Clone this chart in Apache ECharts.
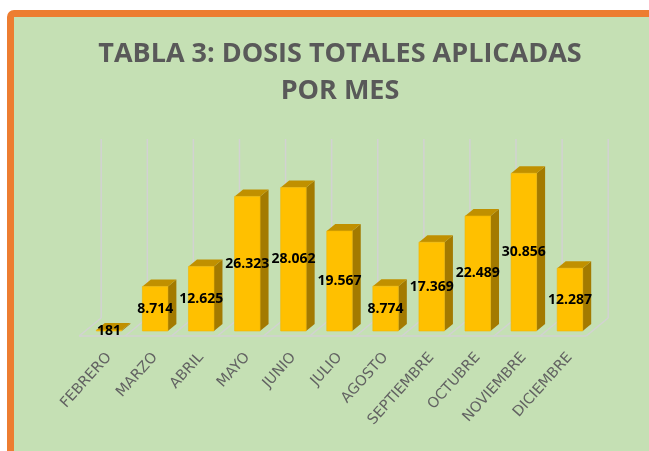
<!DOCTYPE html>
<html>
<head>
<meta charset="utf-8">
<script src="https://cdn.jsdelivr.net/npm/echarts@6/dist/echarts.min.js"></script>
<style>
  html, body { margin: 0; padding: 0; background: #fff; }
  .card {
    position: absolute; left: 7px; top: 10px; width: 700px; height: 500px;
    box-sizing: border-box; border: 7px solid #ED7D31; border-radius: 7px;
    background: #C5E0B4;
  }
  #chart { position: absolute; left: 0; top: 0; width: 649px; height: 451px; }
</style>
</head>
<body>
<div class="card"></div>
<div id="chart"></div>
<script>
const meses = ['FEBRERO', 'MARZO', 'ABRIL', 'MAYO', 'JUNIO', 'JULIO', 'AGOSTO',
  'SEPTIEMBRE', 'OCTUBRE', 'NOVIEMBRE', 'DICIEMBRE'];
const dosis = [181, 8714, 12625, 26323, 28062, 19567, 8774, 17369, 22489, 30856, 12287];
const yMax = 35000;

// profundidad de la caja 3D
const DX = 8.5, DY = 7;
// piso: borde delantero y pared trasera respecto al eje
const FX = -6.8, FY = 5, BX = 15.2, BY = -13;

function fmt (v) {
  return String(Math.round(v)).replace(/\B(?=(\d{3})+(?!\d))/g, '.');
}

const chart = echarts.init(document.getElementById('chart'));

// piso y lineas de la pared
function renderFloor (params, api) {
  const i = api.value(0);
  const c = api.coord([i, 0]);
  const t = api.coord([i, yMax]);
  const band = api.size([1, 0])[0];
  const L = c[0] - band / 2, R = c[0] + band / 2;
  const st = { stroke: '#D2D2D2', lineWidth: 1.5 };
  const kids = [
    { type: 'line', shape: { x1: L + FX, y1: c[1] + FY, x2: R + FX, y2: c[1] + FY }, style: st }
  ];
  const edges = [L];
  if (i === meses.length - 1) edges.push(R);
  edges.forEach(function (x) {
    kids.push({ type: 'line', shape: { x1: x + BX, y1: t[1] + BY, x2: x + BX, y2: c[1] + BY }, style: st });
    kids.push({ type: 'line', shape: { x1: x + BX, y1: c[1] + BY, x2: x + FX, y2: c[1] + FY }, style: st });
  });
  return { type: 'group', children: kids };
}

// columnas 3D
function renderBar (params, api) {
  const i = api.value(0), v = api.value(1);
  const top = api.coord([i, v]);
  const base = api.coord([i, 0]);
  const band = api.size([1, 0])[0];
  const w = band * 0.553;
  const x0 = top[0] - w / 2, x1 = top[0] + w / 2;
  const yt = top[1], yb = base[1];
  return {
    type: 'group',
    children: [
      { type: 'polygon', shape: { points: [[x1, yt], [x1 + DX, yt - DY], [x1 + DX, yb - DY], [x1, yb]] }, style: { fill: '#A37A00' } },
      { type: 'polygon', shape: { points: [[x0, yt], [x0 + DX, yt - DY], [x1 + DX, yt - DY], [x1, yt]] }, style: { fill: '#C09000' } },
      {
        type: 'rect',
        shape: { x: x0, y: yt, width: w, height: yb - yt },
        style: { fill: '#FFC000', stroke: '#F0B400', lineWidth: 0.6 },
        textContent: {
          style: { text: fmt(v), fill: '#000', font: 'bold 14px "Open Sans"' },
          z2: 100
        },
        textConfig: { position: 'inside' }
      }
    ]
  };
}

chart.setOption({
  animation: false,
  title: {
    text: 'TABLA 3: DOSIS TOTALES APLICADAS\nPOR MES',
    left: 335,
    top: 31,
    textAlign: 'center',
    textStyle: {
      fontFamily: 'Open Sans',
      fontWeight: 'bold',
      fontSize: 27,
      lineHeight: 37,
      color: '#595959'
    }
  },
  grid: { left: 86, right: 56, top: 152, bottom: 120 },
  xAxis: {
    type: 'category',
    data: meses,
    axisLine: { show: false },
    axisTick: { show: false },
    splitLine: { show: false },
    axisLabel: {
      interval: 0,
      rotate: 48,
      margin: 24,
      color: '#626262',
      fontFamily: 'DejaVu Sans',
      fontSize: 14.5
    }
  },
  yAxis: { type: 'value', min: 0, max: yMax, show: false },
  series: [
    {
      type: 'custom',
      name: 'piso',
      renderItem: renderFloor,
      encode: { x: 0, y: 1 },
      data: meses.map(function (m, i) { return [i, 0]; }),
      z: 1,
      silent: true
    },
    {
      type: 'custom',
      name: 'Dosis',
      renderItem: renderBar,
      encode: { x: 0, y: 1 },
      data: dosis.map(function (v, i) { return [i, v]; }),
      z: 2
    }
  ]
});
</script>
</body>
</html>
